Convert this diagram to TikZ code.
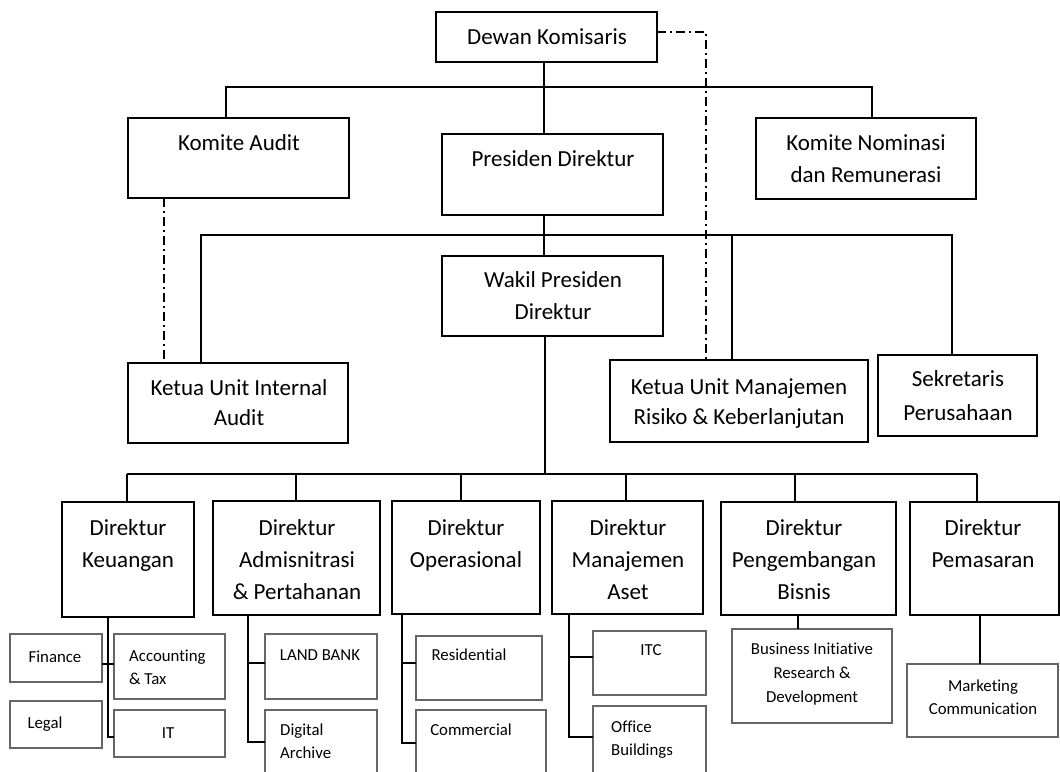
\documentclass[tikz,border=0pt]{standalone}
\usepackage{fontspec}
\setmainfont{Carlito}[Ligatures=NoCommon]
\usetikzlibrary{fit,calc}
\begin{document}
\begin{tikzpicture}[x=1pt,y=-1pt,
  mainbox/.style={draw=black, line width=1.8pt, inner sep=0pt, outer sep=0pt},
  subbox/.style={draw=black!60, line width=1.3pt, inner sep=0pt, outer sep=0pt},
  big/.style={font=\fontsize{23}{32}\selectfont, align=center, inner sep=0pt, anchor=base},
  small/.style={font=\fontsize{16.8}{23.5}\selectfont, align=center, inner sep=0pt, anchor=base},
  smallleft/.style={font=\fontsize{16.8}{23}\selectfont, align=left, inner sep=0pt, anchor=base west},
  conn/.style={line width=1.8pt, black},
  dashdot/.style={line width=1.6pt, black, dash pattern=on 9pt off 4pt on 2pt off 4pt}]
\useasboundingbox (0,0) rectangle (1060,771);
\fill[white] (0,0) rectangle (1060,771);
\newcommand\bx[6][mainbox]{\node[#1, fit={(#3,#4) (#5,#6)}] (#2) {};}
% main boxes
\bx{dk}{436}{12}{657}{62}
\bx{ka}{128}{118}{349}{198}
\bx{pd}{442}{134}{663}{215}
\bx{kn}{756}{118}{976}{199}
\bx{wp}{442}{256}{663}{336}
\bx{kia}{128}{363}{348}{443}
\bx{kum}{610}{360}{868}{442}
\bx{sp}{878}{355}{1037}{436}
\bx{dkeu}{62}{502}{194}{617}
\bx{dadm}{213}{501}{380}{615}
\bx{dops}{392}{501}{540}{614}
\bx{dase}{552}{501}{703}{614}
\bx{dpbs}{721}{502}{896}{615}
\bx{dpms}{910}{502}{1059}{615}
% sub boxes
\bx[subbox]{fin}{10}{634}{102}{682}
\bx[subbox]{acc}{114}{634}{225}{699}
\bx[subbox]{leg}{10}{701}{102}{748}
\bx[subbox]{it}{114}{710}{225}{757}
\bx[subbox]{lb}{265}{634}{377}{699}
\bx[subbox]{da}{265}{710}{377}{790}
\bx[subbox]{res}{416}{636}{542}{700}
\bx[subbox]{com}{416}{710}{546}{790}
\bx[subbox]{itc}{593}{631}{706}{695}
\bx[subbox]{ob}{593}{706}{706}{790}
\bx[subbox]{bird}{732}{629}{892}{723}
\bx[subbox]{mc}{907}{664}{1058}{737}
% texts (anchor = baseline of the last line)
\node[big] (tdk) at (547,44) {Dewan Komisaris};
\node[big] (tka) at (239,150) {Komite Audit};
\node[big] (tpd) at (553,166) {Presiden Direktur};
\node[big] (tkn) at (866,182) {Komite Nominasi\\dan Remunerasi};
\node[big] (twp) at (553,319) {Wakil Presiden\\Direktur};
\node[big, font=\fontsize{23}{30.5}\selectfont] (tkia) at (239,425.5) {Ketua Unit Internal\\Audit};
\node[big, font=\fontsize{23}{30.5}\selectfont] (tkum) at (739,424.5) {Ketua Unit Manajemen\\Risiko \& Keberlanjutan};
\node[big, font=\fontsize{23}{34}\selectfont] (tsp) at (958,420) {Sekretaris\\Perusahaan};
\node[big] (tdkeu) at (128,567) {Direktur\\Keuangan};
\node[big] (tdadm) at (297,599) {Direktur\\Admisnitrasi\\\& Pertahanan};
\node[big] (tdops) at (466,567) {Direktur\\Operasional};
\node[big] (tdase) at (628,599) {Direktur\\Manajemen\\Aset};
\node[big] (tdpbs) at (804,599) {Direktur\\Pengembangan\\Bisnis};
\node[big] (tdpms) at (983,567) {Direktur\\Pemasaran};
\node[small] (tfin) at (55,662.5) {Finance};
\node[smallleft] (tacc) at (129,684.5) {Accounting\\\& Tax};
\node[small] (tleg) at (45,728.5) {Legal};
\node[small] (tit) at (168,738.5) {IT};
\node[small] (tlb) at (320,660.5) {LAND BANK};
\node[smallleft] (tda) at (280,758.5) {Digital\\Archive};
\node[small] (tres) at (469,660.5) {Residential};
\node[small] (tcom) at (471,735.5) {Commercial};
\node[small] (titc) at (651,655.5) {ITC};
\node[smallleft, font=\fontsize{16.8}{22.5}\selectfont] (tob) at (611,755) {Office\\Buildings};
\node[small, font=\fontsize{16.8}{24}\selectfont] (tbird) at (812,702.5) {Business Initiative\\Research \&\\Development};
\node[small, font=\fontsize{16.8}{22.5}\selectfont] (tmc) at (983,714) {Marketing\\Communication};
% connectors
\draw[conn] (dk.south -| 544,0) -- (pd.north -| 544,0);
\draw[conn] (ka.north -| 226,0) -- (226,87) -- (872,87) -- (kn.north -| 872,0);
\draw[conn] (pd.south -| 544,0) -- (wp.north -| 544,0);
\draw[conn] (kia.north -| 201,0) -- (201,235) -- (952,235) -- (sp.north -| 952,0);
\draw[conn] (kum.north -| 732,0) -- (732,235);
\draw[conn] (wp.south -| 545,0) -- (545,474);
\draw[conn] (127,474) -- (977,474);
\foreach \n/\x in {dkeu/127, dadm/296, dops/461, dase/626, dpbs/795, dpms/977}
  \draw[conn] (\n.north -| \x,0) -- (\x,474);
\draw[conn] (dkeu.south -| 108,0) -- (108,737) -- (it.west |- 0,737);
\draw[conn] (fin.east |- 0,664) -- (acc.west |- 0,664);
\draw[conn] (dadm.south -| 248,0) -- (248,742) -- (da.west |- 0,742);
\draw[conn] (248,663) -- (lb.west |- 0,663);
\draw[conn] (dops.south -| 402,0) -- (402,743) -- (com.west |- 0,743);
\draw[conn] (402,663) -- (res.west |- 0,663);
\draw[conn] (dase.south -| 569,0) -- (569,737) -- (ob.west |- 0,737);
\draw[conn] (569,657) -- (itc.west |- 0,657);
\draw[conn] (dpbs.south -| 798,0) -- (bird.north -| 798,0);
\draw[conn] (dpms.south -| 980,0) -- (mc.north -| 980,0);
% dash-dot relations
\draw[dashdot] ($(dk.east)+(0,-5)$) -- (706,32) -- (kum.north -| 706,0);
\draw[dashdot] (ka.south -| 164,0) -- (kia.north -| 164,0);
\end{tikzpicture}
\end{document}
